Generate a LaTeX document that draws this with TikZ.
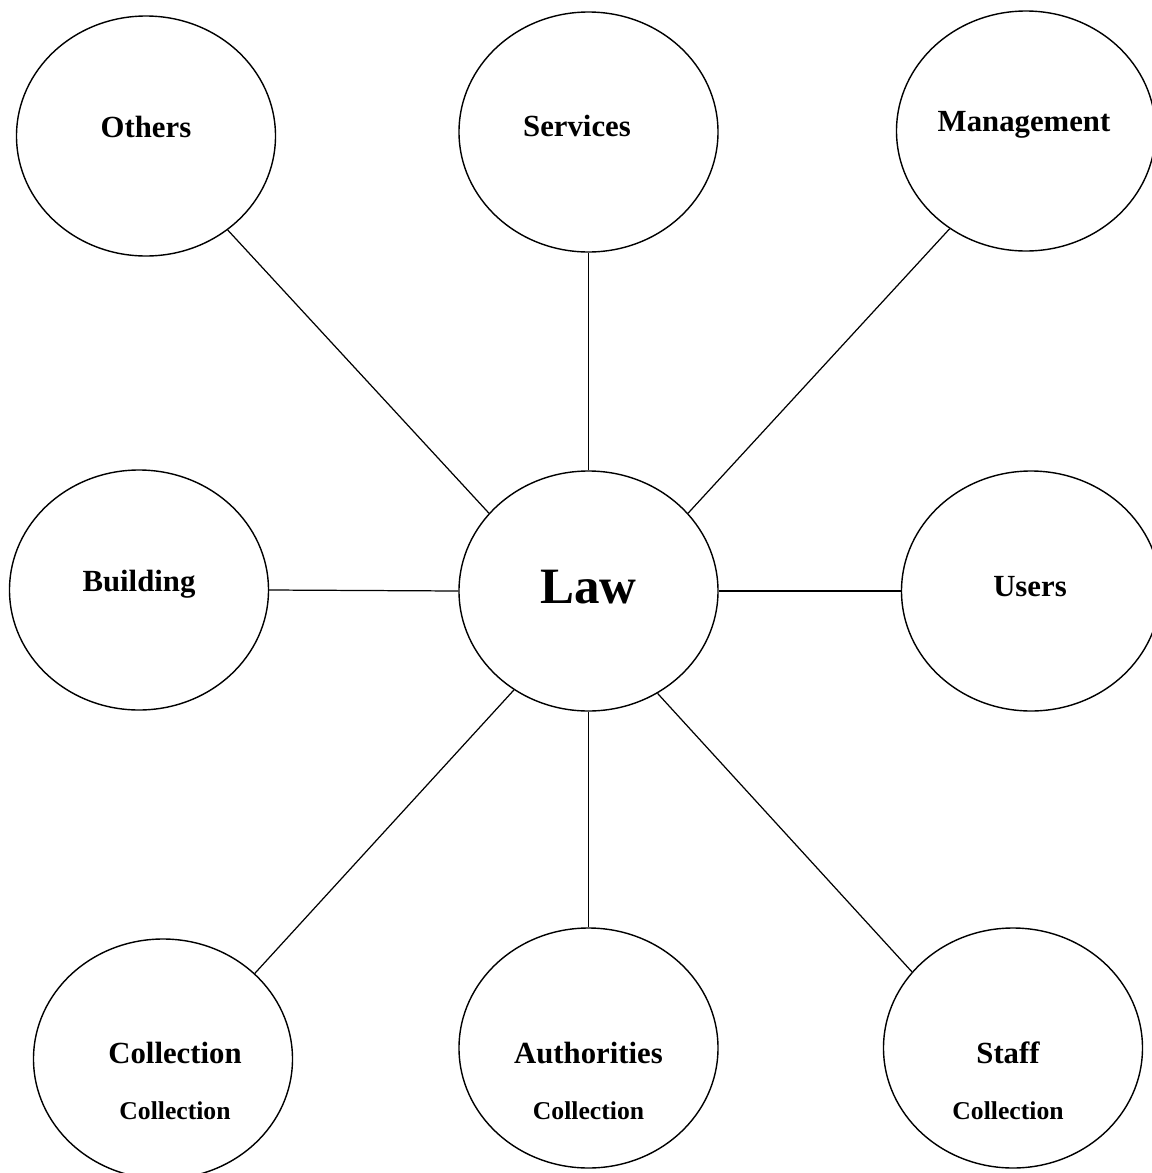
\documentclass[tikz,border=0pt]{standalone}
\usepackage{fontspec}
\setmainfont{Liberation Serif}
\usetikzlibrary{positioning, shapes.geometric}

\begin{document}
\begin{tikzpicture}[
    bubble/.style={draw, ellipse, line width=0.8pt, minimum width=5.18cm, minimum height=4.8cm, inner sep=0pt},
    word/.style={inner sep=0pt, font=\bfseries\fontsize{17.5}{20}\selectfont},
    subword/.style={inner sep=0pt, font=\bfseries\fontsize{14.6}{17}\selectfont},
    link/.style={line width=0.7pt}
  ]
  % page as large as the reference
  \useasboundingbox (0,0) rectangle (23.02,-23.46);

  % centre
  \node[bubble] (law) at (11.77,-11.82) {};
  \node[word, font=\bfseries\fontsize{29}{32}\selectfont] (law-a) at ([yshift=0.08cm]law.center) {Law};

  % top row
  \node[bubble] (others) at (2.92,-2.72) {};
  \node[word] (others-a) at ([yshift=0.18cm]others.center) {Others};
  \node[bubble] (services) at (11.77,-2.64) {};
  \node[word] (services-a) at ([xshift=-0.23cm, yshift=0.12cm]services.center) {Services};
  \node[bubble] (management) at (20.52,-2.62) {};
  \node[word] (management-a) at ([xshift=-0.04cm, yshift=0.12cm]management.center) {Management};

  % middle row
  \node[bubble] (building) at (2.78,-11.8) {};
  \node[word] (building-a) at ([yshift=0.12cm]building.center) {Building};
  \node[bubble] (users) at (20.62,-11.82) {};
  \node[word] (users-a) at ([xshift=-0.02cm, yshift=0.08cm]users.center) {Users};

  % bottom row, two lines of text each
  \node[bubble] (collection) at (3.26,-21.18) {};
  \node[word] (collection-a) at ([xshift=0.24cm, yshift=0.12cm]collection.center) {Collection};
  \node[subword, below=0.75cm of collection-a] (collection-b) {Collection};

  \node[bubble] (authorities) at (11.77,-20.96) {};
  \node[word] (authorities-a) at ([yshift=-0.1cm]authorities.center) {Authorities};
  \node[subword, below=0.75cm of authorities-a] (authorities-b) {Collection};

  \node[bubble] (staff) at (20.26,-20.96) {};
  \node[word] (staff-a) at ([xshift=-0.1cm, yshift=-0.1cm]staff.center) {Staff};
  \node[subword, below=0.75cm of staff-a] (staff-b) {Collection};

  % spokes
  \draw[link] (law.142) -- (others.311.5);
  \draw[link] (law.north) -- (services.south);
  \draw[link] (law.38) -- (management.232);
  \draw[link] (law.west) -- (building.east);
  \draw[link] (law.east) -- (users.west);
  \draw[link] (law.233) -- (collection.43);
  \draw[link] (law.south) -- (authorities.north);
  \draw[link] (law.304) -- (staff.143);
\end{tikzpicture}
\end{document}
